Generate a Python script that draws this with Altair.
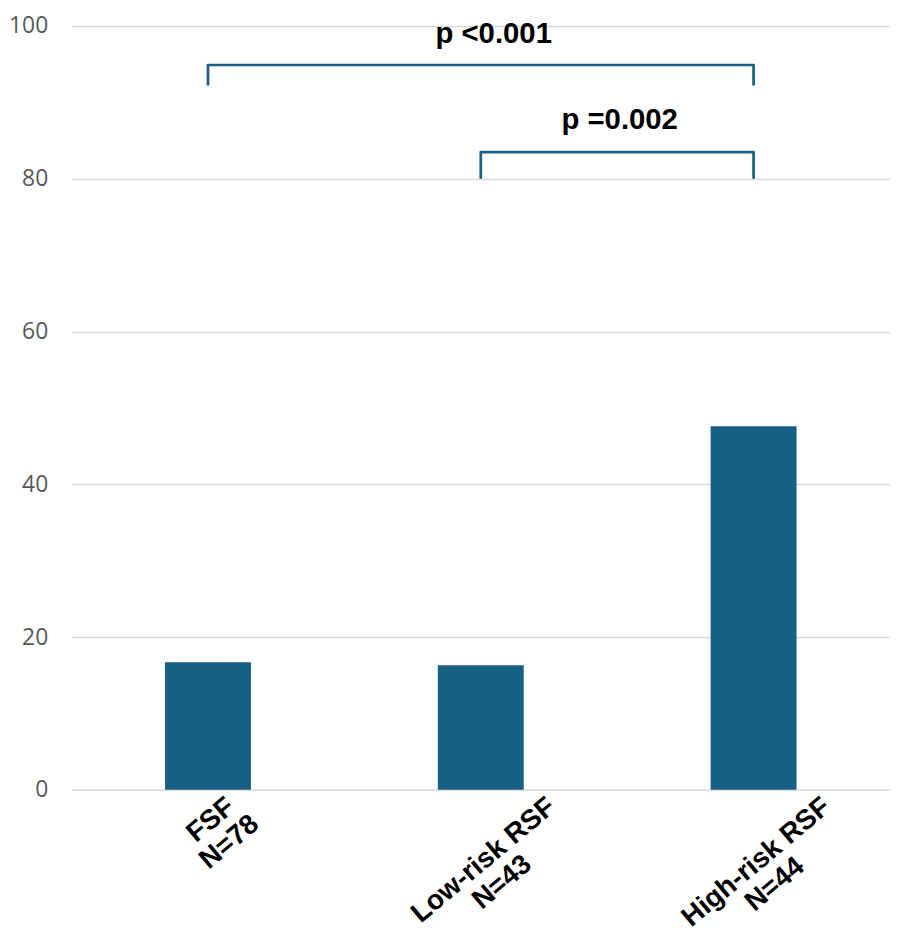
import math
import altair as alt
import pandas as pd

# ---- data ----
categories = ["FSF", "Low-risk RSF", "High-risk RSF"]
n_values = [78, 43, 44]
percent = [16.7, 16.3, 47.6]

comp_from = ["FSF", "Low-risk RSF"]
comp_to = ["High-risk RSF", "High-risk RSF"]
comp_p = ["p <0.001", "p =0.002"]
comp_y_low = [92.2, 80.0]
comp_y_high = [94.9, 83.5]
comp_y_text = [99.0, 87.7]

y_ticks = [0, 20, 40, 60, 80, 100]

# ---- style ----
BAR = "#186184"
W, H = 824, 769
PAD_IN = 0.685
step = W / len(categories)

LBL_FS, LBL_LH, LBL_ANGLE = 28, 29, 40   # rotated x labels (degrees up from horizontal)
LBL_TOP = 6                               # gap between axis and top of rotated label (px)

# approximate bold sans glyph widths (em) to size the rotated labels
_W = {"F": .611, "S": .667, "N": .722, "L": .611, "R": .722, "H": .722,
      "o": .611, "w": .778, "r": .389, "i": .278, "s": .556, "k": .556,
      "g": .611, "h": .611, "=": .584, "-": .333, " ": .278}


def text_w(s, fs):
    return sum(_W.get(ch, .556) for ch in s) * fs


bars_df = pd.DataFrame({
    "cat": categories,
    "pct": percent,
    "label": [f"{c}\nN={n}" for c, n in zip(categories, n_values)],
})

rows = []
for k, (f, t, lo, hi) in enumerate(zip(comp_from, comp_to, comp_y_low, comp_y_high)):
    rows += [
        dict(b=k, cat=f, y=lo, o=0),
        dict(b=k, cat=f, y=hi, o=1),
        dict(b=k, cat=t, y=hi, o=2),
        dict(b=k, cat=t, y=lo, o=3),
    ]
br_df = pd.DataFrame(rows)

xscale = alt.Scale(type="band", domain=categories, paddingInner=PAD_IN, paddingOuter=PAD_IN / 2)
yscale = alt.Scale(domain=[0, 100], nice=False)

bars = alt.Chart(bars_df).mark_bar(color=BAR).encode(
    x=alt.X("cat:N", scale=xscale, axis=None),
    y=alt.Y(
        "pct:Q",
        scale=yscale,
        title=None,
        axis=alt.Axis(
            values=y_ticks, title=None, grid=True, domain=False, ticks=False,
            labelFont="Open Sans", labelFontSize=23, labelColor="#595959",
            labelPadding=24, gridColor="#d9d9d9", gridWidth=1.5,
        ),
    ),
)

brackets = alt.Chart(br_df).mark_line(
    color=BAR, strokeWidth=2.75, strokeJoin="round", strokeCap="butt"
).encode(
    x=alt.X("cat:N", scale=xscale, axis=None, bandPosition=0.5),
    y=alt.Y("y:Q", scale=yscale, title=None),
    detail="b:N",
    order="o:Q",
)

# one text layer per category label, the anchor pushed below the tick so that
# the rotated first line sits just under the axis
sin_a = math.sin(math.radians(LBL_ANGLE))
cos_a = math.cos(math.radians(LBL_ANGLE))
xlabel_layers = []
for c, n in zip(categories, n_values):
    L1 = text_w(c, LBL_FS)
    half_h = 0.5 * (L1 * sin_a + 0.72 * LBL_FS * cos_a)
    dxp, dyp = 3.0, LBL_TOP + half_h
    r = math.hypot(dxp, dyp)
    th = math.atan2(dyp, dxp) + math.pi / 2
    xlabel_layers.append(
        alt.Chart(bars_df).transform_filter(alt.datum.cat == c).mark_text(
            angle=360 - LBL_ANGLE, align="center", baseline="middle", lineBreak="\n",
            font="Liberation Sans", fontSize=LBL_FS, fontWeight="bold", color="black",
            lineHeight=LBL_LH, radius=r, theta=th,
        ).encode(
            x=alt.X("cat:N", scale=xscale, axis=None, bandPosition=0.5),
            y=alt.datum(0),
            text="label:N",
        )
    )

fine = [13, 2.5]
ptexts = []
for k in range(len(comp_p)):
    i_f = categories.index(comp_from[k])
    i_t = categories.index(comp_to[k])
    df = pd.DataFrame({"cat": [comp_to[k]], "y": [comp_y_text[k]], "p": [comp_p[k]]})
    ptexts.append(
        alt.Chart(df).mark_text(
            font="Liberation Sans", fontSize=29.5, fontWeight="bold", color="black",
            baseline="middle", align="center", dx=-(i_t - i_f) * step / 2 + fine[k],
        ).encode(
            x=alt.X("cat:N", scale=xscale, axis=None, bandPosition=0.5),
            y=alt.Y("y:Q", scale=yscale, title=None),
            text="p:N",
        )
    )

chart = alt.layer(bars, brackets, *xlabel_layers, *ptexts).properties(
    width=W,
    height=H,
    padding={"left": 64, "top": 15, "right": 0, "bottom": 146},
    autosize=alt.AutoSizeParams(type="none"),
).configure_view(stroke=None)

chart.save("out.html", embed_options={"renderer": "svg", "actions": False})
